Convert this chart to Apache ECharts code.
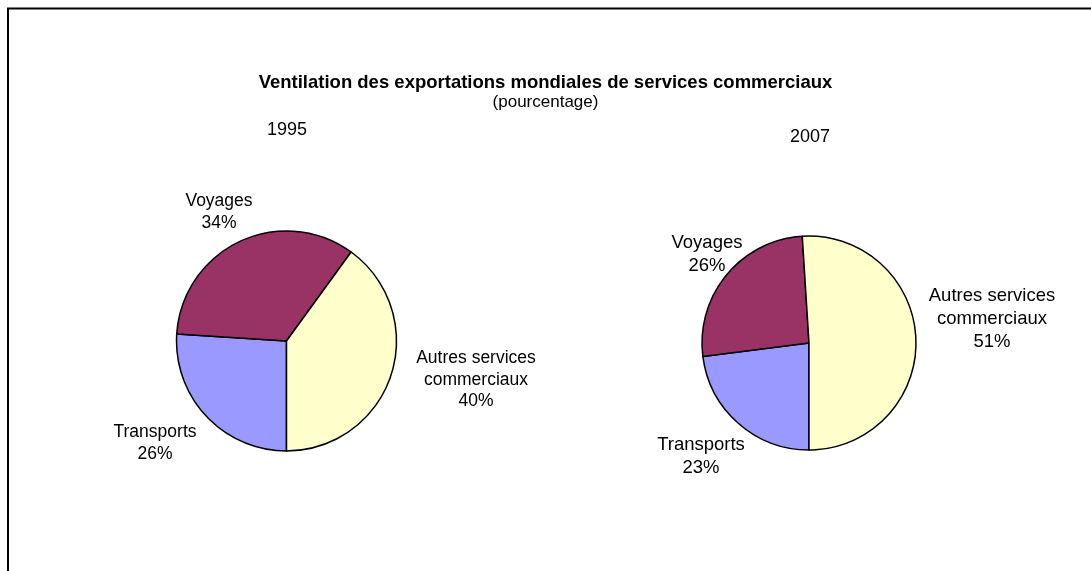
<!DOCTYPE html>
<html>
<head>
<meta charset="utf-8">
<script src="https://cdn.jsdelivr.net/npm/echarts@6/dist/echarts.min.js"></script>
<style>
html,body{margin:0;padding:0;background:#fff;}
#chart{width:1091px;height:571px;}
</style>
</head>
<body>
<div id="chart"></div>
<script>
const titleText = 'Ventilation des exportations mondiales de services commerciaux';
const subtitleText = '(pourcentage)';
const categories = ['Transports', 'Voyages', 'Autres services commerciaux'];
const years = ['1995', '2007'];
const values1995 = [26, 34, 40];
const values2007 = [23, 26, 51];
const colors = ['#9999FF', '#993366', '#FFFFCC'];

// layout (positions and styles only)
const FONT = "'Liberation Sans', Arial, sans-serif";
const pieCenters = [[286.5, 341], [809, 343]];
const pieRadius = [110, 107];
const yearPos = [[287, 130], [810, 137]];
const labelFont = [17.5, 18.5];
const labelLH = [21.5, 23];
const labelPos = [
  [[155, 443], [219, 212], [476, 380]],
  [[701, 456], [707, 254.5], [992, 319]]
];

const chart = echarts.init(document.getElementById('chart'), null, {renderer: 'canvas'});

function fmt(p) {
  return p.name.replace(' commerciaux', '\ncommerciaux') + '\n' + p.value + '%';
}

const seriesVals = [values1995, values2007];
const series = seriesVals.map((vals, si) => ({
  type: 'pie',
  center: pieCenters[si],
  radius: pieRadius[si],
  startAngle: -90,
  clockwise: true,
  silent: true,
  animation: false,
  itemStyle: {borderColor: '#000', borderWidth: 1.5},
  label: {
    show: true,
    position: 'inside',
    formatter: fmt,
    color: '#000',
    fontFamily: FONT,
    fontSize: labelFont[si],
    lineHeight: labelLH[si],
    align: 'center',
    overflow: 'none'
  },
  labelLine: {show: false},
  labelLayout: function (params) {
    const pos = labelPos[si][params.dataIndex];
    return {x: pos[0], y: pos[1], align: 'center', verticalAlign: 'middle'};
  },
  data: categories.map((c, i) => ({name: c, value: vals[i], itemStyle: {color: colors[i]}}))
}));

chart.setOption({
  backgroundColor: '#fff',
  animation: false,
  title: [
    {
      text: titleText,
      subtext: subtitleText,
      left: 'center',
      top: 68,
      itemGap: 2,
      textStyle: {fontFamily: FONT, fontSize: 18.5, fontWeight: 'bold', color: '#000'},
      subtextStyle: {fontFamily: FONT, fontSize: 17, color: '#000'}
    }
  ],
  graphic: [
    {
      type: 'rect',
      shape: {x: 8, y: 8.5, width: 1200, height: 700},
      style: {fill: 'none', stroke: '#000', lineWidth: 2},
      silent: true
    },
    {
      type: 'text', x: yearPos[0][0], y: yearPos[0][1], silent: true,
      style: {text: years[0], fontFamily: FONT, fontSize: 18, fill: '#000', align: 'center', verticalAlign: 'middle'}
    },
    {
      type: 'text', x: yearPos[1][0], y: yearPos[1][1], silent: true,
      style: {text: years[1], fontFamily: FONT, fontSize: 18, fill: '#000', align: 'center', verticalAlign: 'middle'}
    }
  ],
  series: series
});
</script>
</body>
</html>
